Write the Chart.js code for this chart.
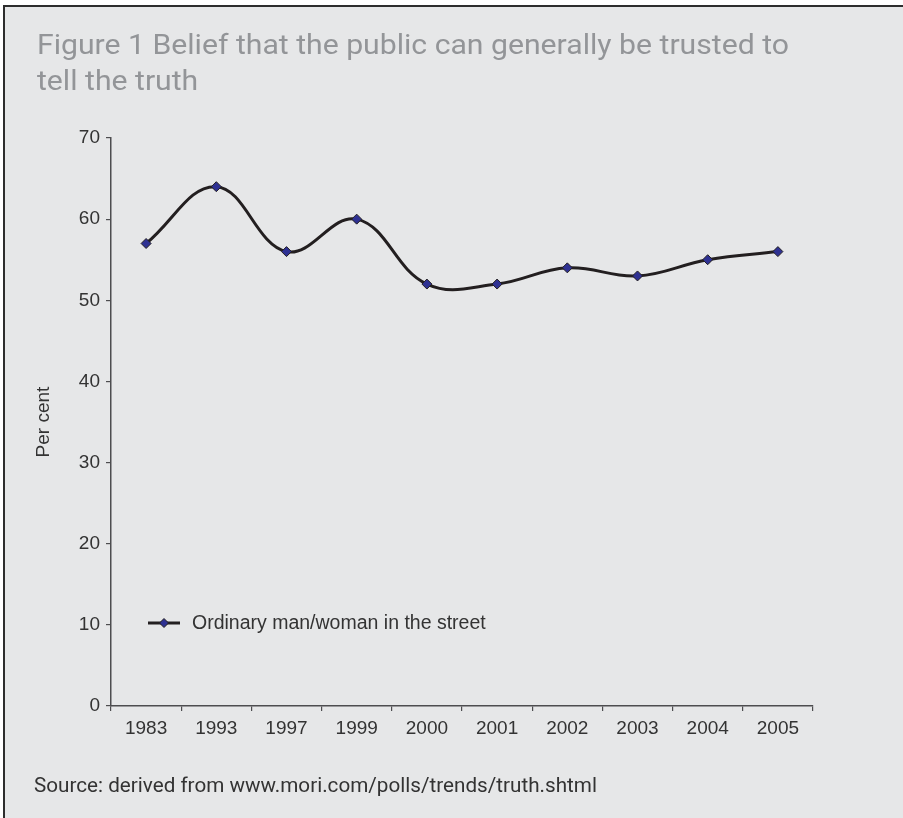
<!DOCTYPE html>
<html>
<head>
<meta charset="utf-8">
<title>Belief that the public can generally be trusted to tell the truth</title>
<script src="https://cdn.jsdelivr.net/npm/chart.js@4"></script>
<style>
  html, body { margin: 0; padding: 0; background: #ffffff; }
  #frame {
    position: absolute; left: 3px; top: 5px; width: 900px; height: 813px;
    background: #e6e7e8;
    border-top: 2.5px solid #2d2d2d; border-left: 2.5px solid #2d2d2d;
    box-sizing: border-box;
  }
  #wrap { position: absolute; left: 0; top: 0; width: 903px; height: 818px; }
  canvas { position: absolute; left: 0; top: 0; }
  .title {
    position: absolute; left: 37px; font-family: Roboto, sans-serif;
    font-size: 28px; color: #939598; white-space: nowrap;
    transform-origin: 0 0; line-height: 36px;
  }
  #source {
    position: absolute; left: 34px; top: 773px; font-family: Roboto, sans-serif;
    font-size: 20px; color: #333333; white-space: nowrap; transform-origin: 0 0;
  }
</style>
</head>
<body>
<div id="frame"></div>
<div id="wrap">
  <canvas id="trustChart" width="903" height="818"></canvas>
  <div class="title" id="title1" style="top:27px">Figure 1 Belief that the public can generally be trusted to</div>
  <div class="title" id="title2" style="top:63px">tell the truth</div>
  <div id="source">Source: derived from www.mori.com/polls/trends/truth.shtml</div>
</div>
<script>
// survey years and share who trust the ordinary person to tell the truth
const years = ['1983', '1993', '1997', '1999', '2000', '2001', '2002', '2003', '2004', '2005'];
const ordinaryPerson = [57, 64, 56, 60, 52, 52, 54, 53, 55, 56];
const seriesLabel = 'Ordinary man/woman in the street';
const yTicks = [0, 10, 20, 30, 40, 50, 60, 70];

const axisColor = '#4d4d4f';
const textColor = '#333333';
const lineColor = '#231f20';
const markerColor = '#2e3192';

// squeeze a text line horizontally to a given width
function fitWidth(id, target) {
  const el = document.getElementById(id);
  const w = el.getBoundingClientRect().width;
  if (w > 0) el.style.transform = 'scaleX(' + (target / w) + ')';
  return target / w;
}
const s = fitWidth('title1', 752);
document.getElementById('title2').style.transform = 'scaleX(' + s + ')';
fitWidth('source', 563);

// legend drawn inside the plot area, lower left
const insideLegend = {
  id: 'insideLegend',
  afterDraw(chart) {
    const ctx = chart.ctx;
    const area = chart.chartArea;
    const ds = chart.data.datasets[0];
    const x0 = area.left + 37, y0 = area.bottom - 83;
    ctx.save();
    ctx.strokeStyle = lineColor;
    ctx.lineWidth = 3;
    ctx.beginPath();
    ctx.moveTo(x0, y0);
    ctx.lineTo(x0 + 32, y0);
    ctx.stroke();
    ctx.beginPath();
    ctx.moveTo(x0 + 16, y0 - 4.5);
    ctx.lineTo(x0 + 20.5, y0);
    ctx.lineTo(x0 + 16, y0 + 4.5);
    ctx.lineTo(x0 + 11.5, y0);
    ctx.closePath();
    ctx.fillStyle = markerColor;
    ctx.fill();
    ctx.lineWidth = 1;
    ctx.stroke();
    ctx.fillStyle = textColor;
    ctx.font = '19.5px "Liberation Sans", Arial, sans-serif';
    ctx.textBaseline = 'middle';
    ctx.fillText(ds.label, x0 + 44, y0 + 1);
    ctx.restore();
  }
};

new Chart(document.getElementById('trustChart'), {
  type: 'line',
  data: {
    labels: years,
    datasets: [{
      label: seriesLabel,
      data: ordinaryPerson,
      borderColor: lineColor,
      borderWidth: 3,
      tension: 0.4,
      pointStyle: 'rectRot',
      pointRadius: 5,
      pointBackgroundColor: markerColor,
      pointBorderColor: lineColor,
      pointBorderWidth: 1,
      clip: false
    }]
  },
  options: {
    responsive: false,
    animation: false,
    events: [],
    layout: { padding: { left: 0, top: 138, right: 90, bottom: 72 } },
    plugins: {
      legend: { display: false },
      tooltip: { enabled: false }
    },
    scales: {
      x: {
        offset: true,
        grid: { offset: true, drawOnChartArea: false, drawTicks: true, tickLength: 5, color: axisColor, lineWidth: 1.2 },
        border: { display: true, color: axisColor, width: 1.5 },
        ticks: { color: textColor, font: { family: '"Liberation Sans", Arial, sans-serif', size: 19 }, padding: 6, maxRotation: 0 },
        afterFit(scale) { scale.height = 40; }
      },
      y: {
        min: 0,
        max: 70,
        afterBuildTicks(scale) { scale.ticks = yTicks.map(v => ({ value: v })); },
        grid: { drawOnChartArea: false, drawTicks: true, tickLength: 5, color: axisColor, lineWidth: 1.2 },
        border: { display: true, color: axisColor, width: 1.5 },
        ticks: { color: textColor, font: { family: '"Liberation Sans", Arial, sans-serif', size: 19 }, padding: 6 },
        title: {
          display: true,
          text: 'Per cent',
          color: textColor,
          font: { family: '"Liberation Sans", Arial, sans-serif', size: 19 },
          padding: { top: 32, bottom: 0 }
        },
        afterFit(scale) { scale.width = 111; }
      }
    }
  },
  plugins: [insideLegend]
});
</script>
</body>
</html>
